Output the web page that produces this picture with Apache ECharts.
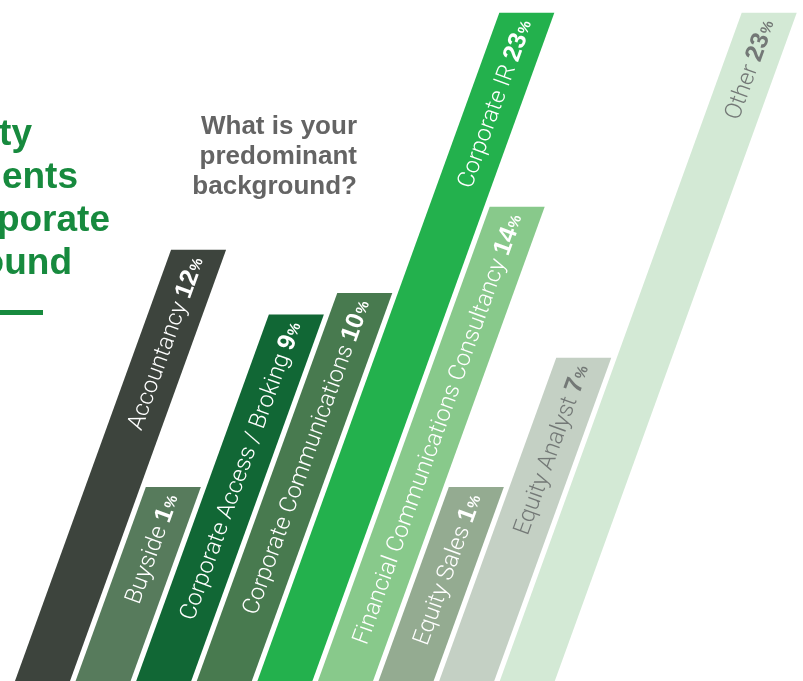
<!DOCTYPE html>
<html>
<head>
<meta charset="utf-8">
<script src="https://cdn.jsdelivr.net/npm/echarts@6/dist/echarts.min.js"></script>
<style>
  html, body { margin: 0; padding: 0; background: #fff; }
  #chart { width: 803px; height: 681px; }
</style>
</head>
<body>
<div id="chart"></div>
<script>
// data
var categories = ['Accountancy', 'Buyside', 'Corporate Access / Broking', 'Corporate Communications',
    'Corporate IR', 'Financial Communications Consultancy', 'Equity Sales', 'Equity Analyst', 'Other'];
var values = [12, 1, 9, 10, 23, 14, 1, 7, 23];

// palette
var barColors = ['#3d443d', '#577b5c', '#116735', '#487a4f', '#23b14d', '#88c98b', '#94ab91', '#c4d0c4', '#d3e9d5'];
var labelColors = ['#fff', '#fff', '#fff', '#fff', '#fff', '#fff', '#fff', '#737876', '#737876'];

var AXIS_MIN = -8;      // bars run off the bottom of the page
var SKEW = 0.362;       // horizontal shift per pixel of height
var ROT = Math.atan2(1, SKEW);

var myChart = echarts.init(document.getElementById('chart'));

function renderBar(params, api) {
    var i = api.value(0);
    var v = api.value(1);
    var base = api.coord([i, AXIS_MIN]);
    var top = api.coord([i, v]);
    var w = api.size([1, 0])[0] * 0.908;
    var sh = SKEW * (base[1] - top[1]);
    var pts = [
        [base[0] - w / 2, base[1]],
        [base[0] + w / 2, base[1]],
        [base[0] + w / 2 + sh, top[1]],
        [base[0] - w / 2 + sh, top[1]]
    ];
    // label end sits a little below the top, on the centre line
    var len = Math.sqrt(1 + SKEW * SKEW);
    var d = 8;
    var ax = base[0] + sh - d * SKEW / len;
    var ay = top[1] + d / len;
    var col = labelColors[i];
    return {
        type: 'group',
        children: [{
            type: 'polygon',
            shape: { points: pts },
            style: { fill: barColors[i] }
        }, {
            type: 'text',
            x: ax,
            y: ay,
            rotation: ROT,
            style: {
                text: '{n|' + categories[i] + ' }{b|' + v + '}{p|%}',
                align: 'right',
                verticalAlign: 'middle',
                fill: col,
                rich: {
                    n: { fontFamily: 'Roboto', fontWeight: 300, fontSize: 23.5, fill: col, lineHeight: 28, verticalAlign: 'bottom' },
                    b: { fontFamily: 'Liberation Sans', fontWeight: 'bold', fontSize: 25, fill: col, lineHeight: 28, verticalAlign: 'bottom' },
                    p: { fontFamily: 'Liberation Sans', fontWeight: 'bold', fontSize: 15, fill: col, lineHeight: 28, verticalAlign: 'bottom', padding: [0, 0, 3, 1] }
                }
            }
        }]
    };
}

var titleLines = ['Majority', 'of respondents', 'have a corporate', 'background'];
var titleEnds = [32, 78, 110, 72];
var titleTops = [116, 159, 202, 245];

var graphics = titleLines.map(function (t, k) {
    return {
        type: 'text',
        x: titleEnds[k],
        y: titleTops[k],
        style: {
            text: t,
            align: 'right',
            verticalAlign: 'top',
            fill: '#178a3e',
            font: 'bold 37px "Liberation Sans"'
        }
    };
});
graphics.push({
    type: 'rect',
    shape: { x: 0, y: 310, width: 43, height: 5 },
    style: { fill: '#178a3e' }
});
graphics.push({
    type: 'text',
    x: 357,
    y: 112,
    style: {
        text: 'What is your\npredominant\nbackground?',
        align: 'right',
        verticalAlign: 'top',
        lineHeight: 30,
        fill: '#646464',
        font: 'bold 26px "Liberation Sans"'
    }
});

option = {
    animation: false,
    grid: {
        left: 12.2,
        right: 245.4,
        top: 12.7,
        bottom: 0
    },
    xAxis: {
        type: 'category',
        data: categories,
        show: false
    },
    yAxis: {
        type: 'value',
        min: AXIS_MIN,
        max: 23,
        show: false
    },
    graphic: graphics,
    series: [{
        type: 'custom',
        renderItem: renderBar,
        encode: { x: 0, y: 1 },
        data: values.map(function (v, i) {
            return [i, v];
        })
    }]
};

myChart.setOption(option);
</script>
</body>
</html>
